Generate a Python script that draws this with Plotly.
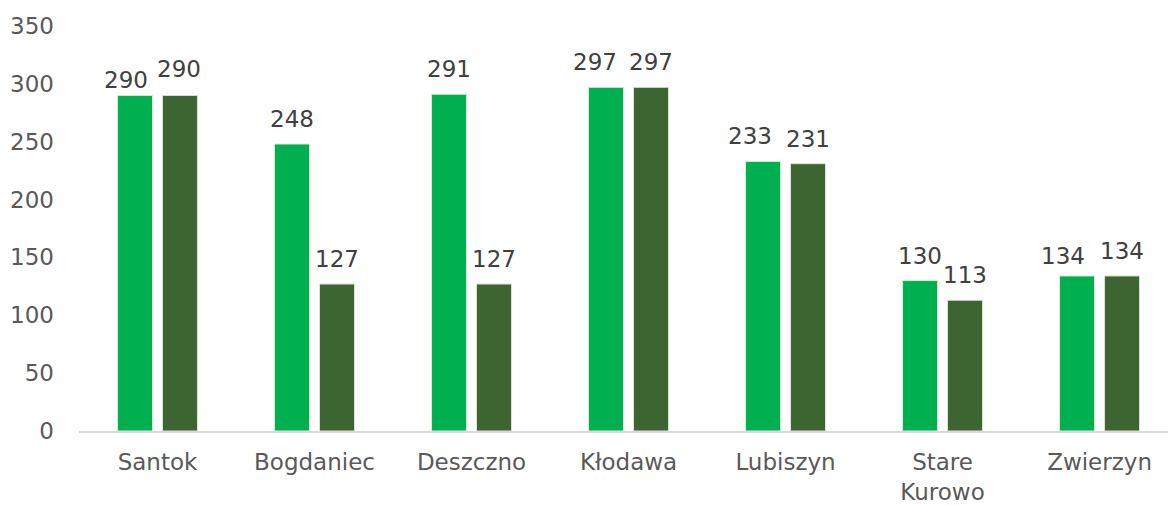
import plotly.graph_objects as go

gminy = ["Santok", "Bogdaniec", "Deszczno", "Kłodawa", "Lubiszyn", "Stare<br>Kurowo", "Zwierzyn"]
seria_a = [290, 248, 291, 297, 233, 130, 134]
seria_b = [290, 127, 127, 297, 231, 113, 134]
y_ticks = [0, 50, 100, 150, 200, 250, 300, 350]

col_a = "#00B050"
col_b = "#3D6531"
font_family = "DejaVu Sans, Verdana, sans-serif"
fs = 23

# nudges (px) for labels that would otherwise collide with their neighbour
nudge_a = {"Santok": (-9, -10), "Kłodawa": (-11, 0), "Lubiszyn": (-13, 0), "Zwierzyn": (-14, -5)}
nudge_b = {"Santok": (-1, 1)}

fig = go.Figure()
fig.add_trace(go.Bar(x=gminy, y=seria_a, marker=dict(color=col_a, line=dict(color="#D9EAD3", width=1)),
                     hoverinfo="x+y"))
fig.add_trace(go.Bar(x=gminy, y=seria_b, marker=dict(color=col_b, line=dict(color="#D9E2D3", width=1)),
                     hoverinfo="x+y"))

# value labels above each bar
for vals, shift, nudge in ((seria_a, -22.5, nudge_a), (seria_b, 22.5, nudge_b)):
    for g, v in zip(gminy, vals):
        dx, dy = nudge.get(g, (0, 0))
        fig.add_annotation(x=g, y=v, text=str(v), showarrow=False, xshift=shift + dx,
                           yanchor="middle", yshift=25 + dy,
                           font=dict(family=font_family, size=fs, color="#404040"))

fig.update_layout(
    width=1168, height=505,
    margin=dict(l=79, r=0, t=26, b=74),
    paper_bgcolor="white", plot_bgcolor="white",
    barmode="group", bargap=0.427, bargroupgap=0.222,
    showlegend=False,
    font=dict(family=font_family, size=fs, color="#595959"),
    xaxis=dict(range=[-0.5, 6.436], showgrid=False, showline=True, linecolor="#D9D9D9",
               linewidth=1.5, ticks="", ticklabelstandoff=10, automargin=False,
               tickfont=dict(size=fs, color="#595959")),
    yaxis=dict(range=[0, 350], tickvals=y_ticks, showgrid=False, zeroline=False,
               showline=False, ticks="", ticklabelstandoff=24, automargin=False,
               tickfont=dict(size=fs, color="#595959")),
)

fig.write_html("out.html")
